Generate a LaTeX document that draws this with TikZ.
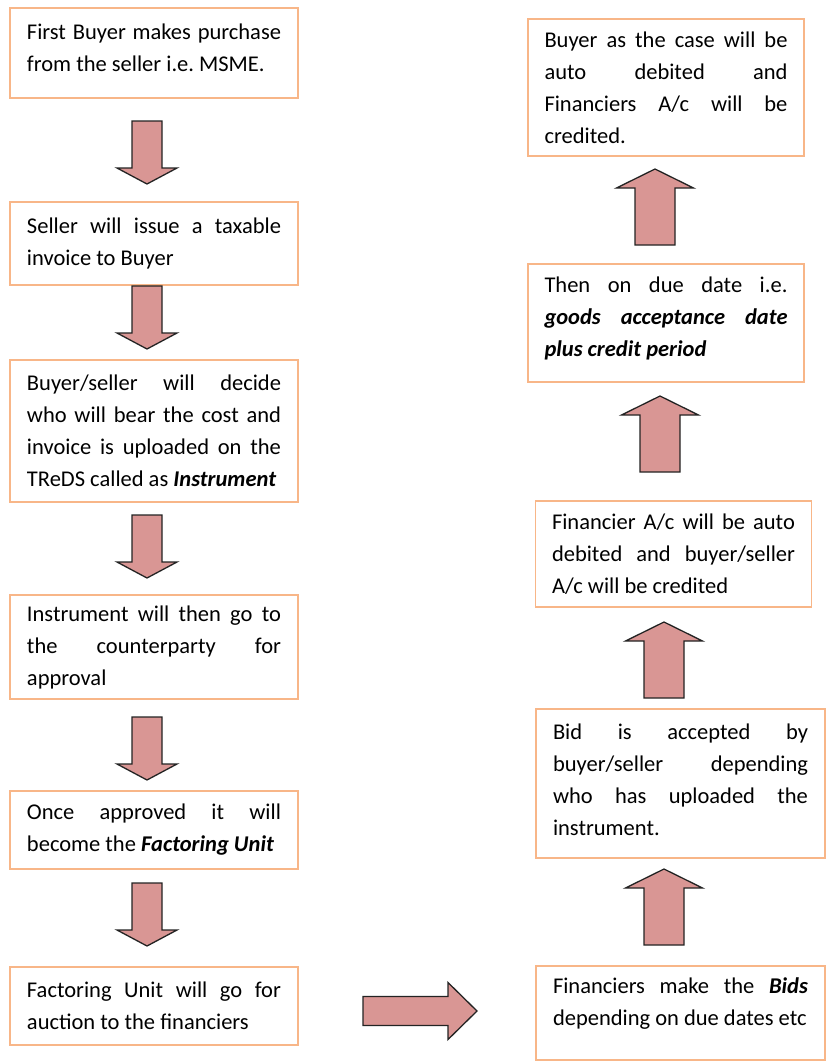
\documentclass[tikz,border=0pt]{standalone}
\usepackage{fontspec}
\setmainfont{Carlito}
\definecolor{boxorange}{RGB}{248,182,136}
\definecolor{arrowpink}{RGB}{217,150,148}
\definecolor{arrowedge}{RGB}{35,35,35}
\newcommand{\bitext}[1]{\textbf{\textit{#1}}}
\hbadness=10000
\frenchspacing

\begin{document}
\begin{tikzpicture}[x=1pt, y=-1pt,
    stepbox/.style={
      rectangle, draw=boxorange, line width=1.4pt, fill=white,
      align=justify, inner ysep=0pt,
      font=\fontsize{22.5}{32}\selectfont
    },
    leftbox/.style={stepbox, text width=254pt, inner xsep=17pt},
    rightbox/.style={stepbox, text width=243pt, inner xsep=16.5pt},
    widebox/.style={stepbox, text width=255pt, inner xsep=17pt},
    blockarrow/.style={draw=arrowedge, fill=arrowpink, line width=1.3pt, line join=miter},
    pics/downarrow/.style={code={
      \draw[blockarrow] (-15,0) -- (15,0) -- (15,47) -- (30,47) -- (0,63) -- (-30,47) -- (-15,47) -- cycle;}},
    pics/uparrow/.style={code={
      \draw[blockarrow] (0,0) -- (38.5,19) -- (20,19) -- (20,76) -- (-20,76) -- (-20,19) -- (-38.5,19) -- cycle;}},
    pics/rightarrow/.style={code={
      \draw[blockarrow] (0,-14.5) -- (85,-14.5) -- (85,-28.5) -- (114,0) -- (85,28.5) -- (85,14.5) -- (0,14.5) -- cycle;}}
  ]
    \useasboundingbox (0,0) rectangle (827,1061);
    % left column, top to bottom
    \node[leftbox, minimum height=90pt] (purchase) at (154,53)
      {First Buyer makes purchase\linebreak from the seller i.e. MSME.\par\kern10pt};
    \node[leftbox, minimum height=83pt] (invoice) at (154,243.5)
      {Seller will issue a taxable\linebreak invoice to Buyer};
    \node[leftbox, minimum height=142pt] (upload) at (154,431)
      {Buyer/seller will decide\linebreak who will bear the cost and\linebreak invoice is uploaded on the\linebreak TReDS called as \bitext{Instrument}};
    \node[leftbox, minimum height=104pt] (counter) at (154,647)
      {Instrument will then go to\linebreak the counterparty for\linebreak approval};
    \node[leftbox, minimum height=78pt] (factor) at (154,830)
      {Once approved it will\linebreak become the \bitext{Factoring Unit}};
    \node[leftbox, minimum height=78pt] (auction) at (154,1006)
      {Factoring Unit will go for\linebreak auction to the financiers};
    % right column, bottom to top
    \node[widebox, minimum height=94pt] (bids) at (680.5,1013)
      {Financiers make the \bitext{Bids}\linebreak depending on due dates etc\par\kern19pt};
    \node[widebox, minimum height=149pt] (accept) at (680.5,783.5)
      {Bid is accepted by\linebreak buyer/seller depending\linebreak who has uploaded the\linebreak instrument.\par\kern7pt};
    \node[rightbox, minimum height=106pt] (debit) at (673.5,554)
      {Financier A/c will be auto\linebreak debited and buyer/seller\linebreak A/c will be credited};
    \node[rightbox, minimum height=118pt] (duedate) at (666,323)
      {Then on due date i.e.\linebreak \bitext{goods acceptance date}\linebreak \bitext{plus credit period}\par\kern10pt};
    \node[rightbox, minimum height=137pt] (settle) at (666,87.5)
      {Buyer as the case will be\linebreak auto debited and\linebreak Financiers A/c will be\linebreak credited.};
    % block arrows
    \pic at (147,121) {downarrow};
    \pic at (147,286) {downarrow};
    \pic at (147,515) {downarrow};
    \pic at (147,717) {downarrow};
    \pic at (147,883) {downarrow};
    \pic at (363,1011) {rightarrow};
    \pic at (664,869) {uparrow};
    \pic at (664,622) {uparrow};
    \pic at (660,396) {uparrow};
    \pic at (655,169) {uparrow};
  \end{tikzpicture}
\end{document}
